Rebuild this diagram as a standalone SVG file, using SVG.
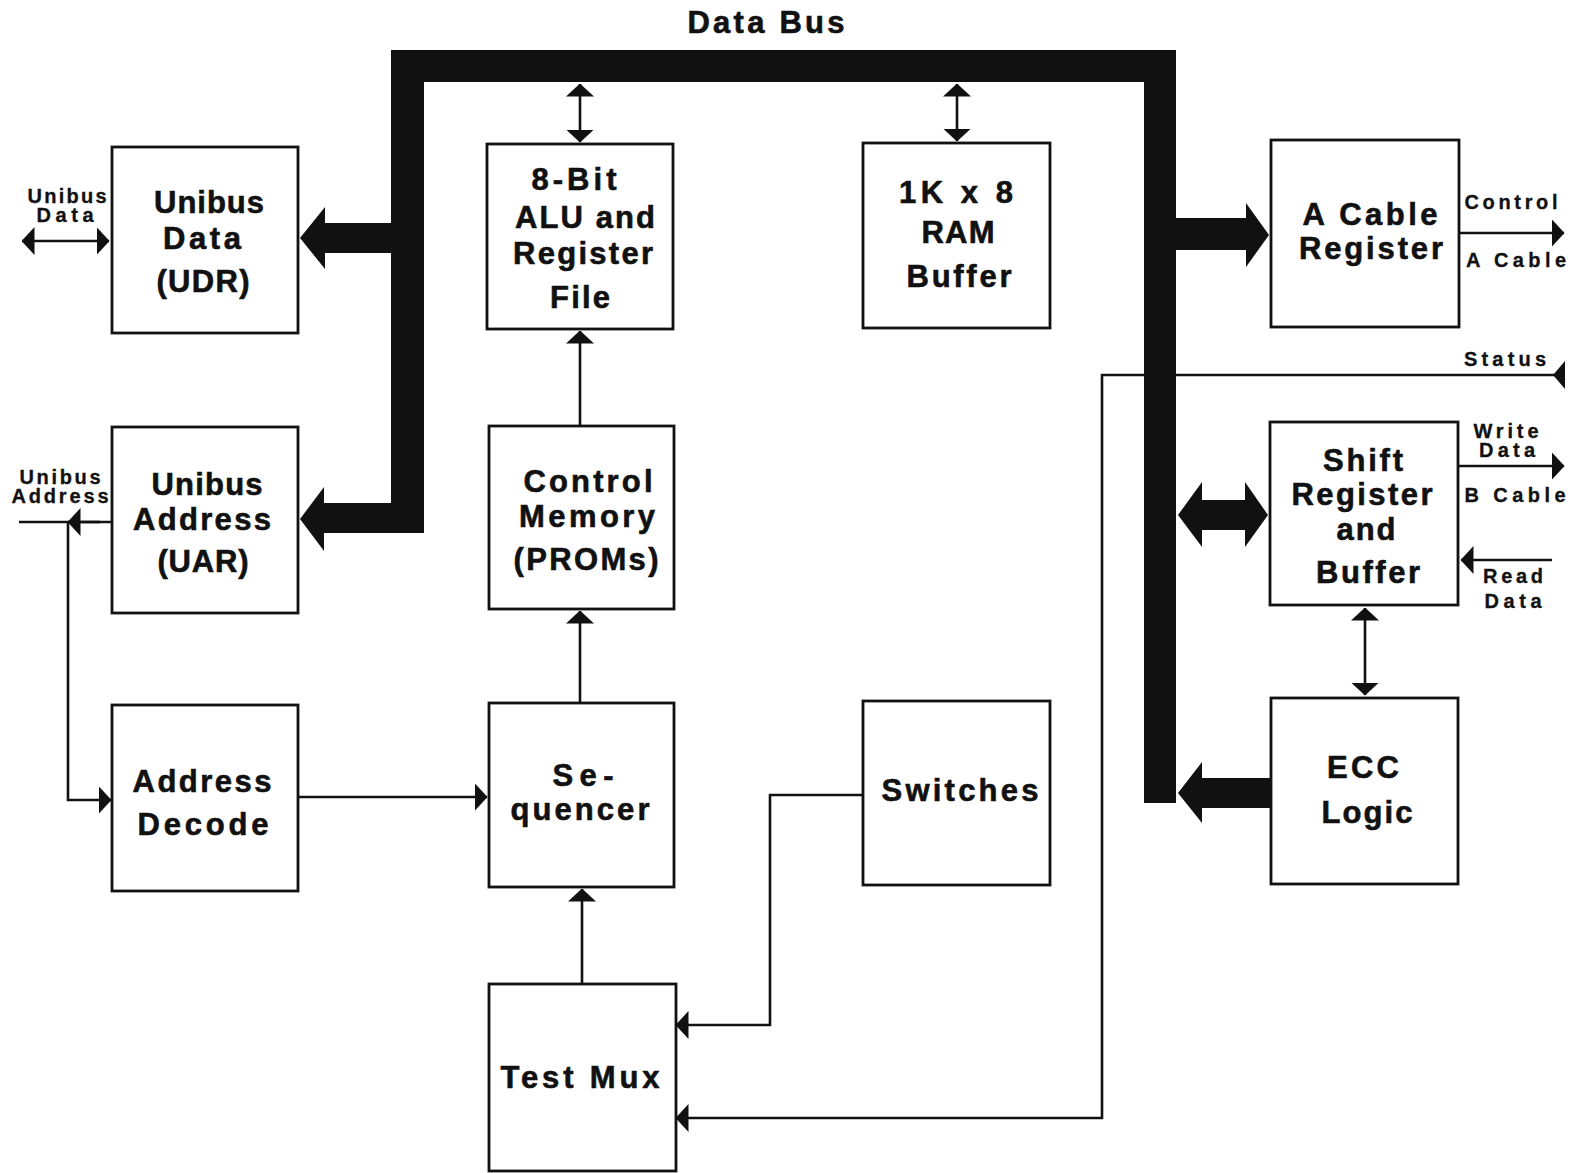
<svg xmlns="http://www.w3.org/2000/svg" width="1574" height="1173" viewBox="0 0 1574 1173">
<style>
.bx{fill:#fff;stroke:#111;stroke-width:2.8}
.t{font-family:"Liberation Sans",Arial,Helvetica,sans-serif;font-weight:bold;font-size:31px;fill:#111;stroke:#111;stroke-width:0.6;text-anchor:middle}
.s{font-family:"Liberation Sans",Arial,Helvetica,sans-serif;font-weight:bold;font-size:20px;fill:#111;stroke:#111;stroke-width:0.3;text-anchor:middle}
.ln{fill:none;stroke:#111;stroke-width:2.6}
.thick{fill:#111}
</style>
<defs>
<marker id="ah" viewBox="0 0 13 28" refX="12.5" refY="14" markerWidth="13" markerHeight="28" markerUnits="userSpaceOnUse" orient="auto-start-reverse">
<path d="M0,0 L13,14 L0,28 Z" fill="#111"/>
</marker>
</defs>
<rect width="1574" height="1173" fill="#fff"/>

<text class="t" x="766" y="33" textLength="157" lengthAdjust="spacing">Data Bus</text>

<g id="connectors">
<!-- data bus -->
<path class="thick" d="M391,50 H1176 V803 H1144 V82 H424 V533 H391 Z"/>
<!-- left bus arrows -->
<polygon class="thick" points="392,223 325,223 325,207 300,238 325,269 325,253 392,253"/>
<polygon class="thick" points="392,503 324,503 324,487 300,519 324,551 324,533 392,533"/>
<!-- right bus arrows -->
<polygon class="thick" points="1176,218 1246,218 1246,203 1269,235 1246,267 1246,250 1176,250"/>
<polygon class="thick" points="1178,515 1202,482 1202,500 1245,500 1245,482 1268,515 1245,547 1245,530 1202,530 1202,547"/>
<polygon class="thick" points="1271,778 1202,778 1202,762 1178,793 1202,823 1202,808 1271,808"/>
<!-- thin arrows -->
<line class="ln" x1="580" y1="84" x2="580" y2="142" marker-start="url(#ah)" marker-end="url(#ah)"/>
<line class="ln" x1="957" y1="84" x2="957" y2="141" marker-start="url(#ah)" marker-end="url(#ah)"/>
<line class="ln" x1="580" y1="426" x2="580" y2="331" marker-end="url(#ah)"/>
<line class="ln" x1="580" y1="703" x2="580" y2="611" marker-end="url(#ah)"/>
<line class="ln" x1="582" y1="984" x2="582" y2="889" marker-end="url(#ah)"/>
<line class="ln" x1="1365" y1="608" x2="1365" y2="695" marker-start="url(#ah)" marker-end="url(#ah)"/>
<line class="ln" x1="298" y1="797" x2="487" y2="797" marker-end="url(#ah)"/>
<line class="ln" x1="22" y1="241" x2="109" y2="241" marker-start="url(#ah)" marker-end="url(#ah)"/>
<line class="ln" x1="19" y1="522" x2="112" y2="522"/>
<line class="ln" x1="100" y1="522" x2="68" y2="522" marker-end="url(#ah)"/>
<polyline class="ln" points="68,522 68,800 111,800" marker-end="url(#ah)"/>
<line class="ln" x1="1459" y1="233" x2="1564" y2="233" marker-end="url(#ah)"/>
<polyline class="ln" points="1556,375 1102,375 1102,1118 676,1118" marker-end="url(#ah)"/>
<polygon class="thick" points="1553,375 1565,361 1565,389"/>
<polyline class="ln" points="863,795 770,795 770,1025 676,1025" marker-end="url(#ah)"/>
<line class="ln" x1="1458" y1="466" x2="1564" y2="466" marker-end="url(#ah)"/>
<line class="ln" x1="1552" y1="560" x2="1461" y2="560" marker-end="url(#ah)"/>
<!-- redraw bus over status line -->
<rect class="thick" x="1144" y="360" width="32" height="30"/>
</g>

<g id="lbl-unibus-data">
<text class="s" x="67" y="203" textLength="79" lengthAdjust="spacing">Unibus</text>
<text class="s" x="65" y="222" textLength="57" lengthAdjust="spacing">Data</text>
</g>
<g id="lbl-unibus-address">
<text class="s" x="60" y="484" textLength="81" lengthAdjust="spacing">Unibus</text>
<text class="s" x="60" y="503" textLength="97" lengthAdjust="spacing">Address</text>
</g>
<g id="lbl-right">
<text class="s" x="1511" y="209" textLength="93" lengthAdjust="spacing">Control</text>
<text class="s" x="1516" y="267" textLength="100" lengthAdjust="spacing">A Cable</text>
<text class="s" x="1505" y="366" textLength="82" lengthAdjust="spacing">Status</text>
<text class="s" x="1506" y="438" textLength="65" lengthAdjust="spacing">Write</text>
<text class="s" x="1507" y="457" textLength="56" lengthAdjust="spacing">Data</text>
<text class="s" x="1515" y="502" textLength="101" lengthAdjust="spacing">B Cable</text>
<text class="s" x="1513" y="583" textLength="60" lengthAdjust="spacing">Read</text>
<text class="s" x="1513" y="608" textLength="57" lengthAdjust="spacing">Data</text>
</g>

<g id="udr">
<rect class="bx" x="112" y="147" width="186" height="186"/>
<text class="t" x="209" y="213" textLength="110" lengthAdjust="spacing">Unibus</text>
<text class="t" x="202" y="249" textLength="78" lengthAdjust="spacing">Data</text>
<text class="t" x="203" y="292" textLength="93" lengthAdjust="spacing">(UDR)</text>
</g>
<g id="uar">
<rect class="bx" x="112" y="427" width="186" height="186"/>
<text class="t" x="207" y="495" textLength="111" lengthAdjust="spacing">Unibus</text>
<text class="t" x="202" y="530" textLength="138" lengthAdjust="spacing">Address</text>
<text class="t" x="203" y="572" textLength="91" lengthAdjust="spacing">(UAR)</text>
</g>
<g id="addr-decode">
<rect class="bx" x="112" y="705" width="186" height="186"/>
<text class="t" x="202" y="792" textLength="139" lengthAdjust="spacing">Address</text>
<text class="t" x="203" y="835" textLength="131" lengthAdjust="spacing">Decode</text>
</g>
<g id="alu">
<rect class="bx" x="487" y="144" width="186" height="185"/>
<text class="t" x="574" y="190" textLength="85" lengthAdjust="spacing">8-Bit</text>
<text class="t" x="585" y="228" textLength="140" lengthAdjust="spacing">ALU and</text>
<text class="t" x="583" y="264" textLength="140" lengthAdjust="spacing">Register</text>
<text class="t" x="580" y="308" textLength="60" lengthAdjust="spacing">File</text>
</g>
<g id="ram">
<rect class="bx" x="863" y="143" width="187" height="185"/>
<text class="t" x="956" y="203" textLength="114" lengthAdjust="spacing">1K x 8</text>
<text class="t" x="958" y="243" textLength="73" lengthAdjust="spacing">RAM</text>
<text class="t" x="959" y="287" textLength="105" lengthAdjust="spacing">Buffer</text>
</g>
<g id="control-memory">
<rect class="bx" x="489" y="426" width="185" height="183"/>
<text class="t" x="588" y="492" textLength="129" lengthAdjust="spacing">Control</text>
<text class="t" x="587" y="527" textLength="136" lengthAdjust="spacing">Memory</text>
<text class="t" x="586" y="570" textLength="145" lengthAdjust="spacing">(PROMs)</text>
</g>
<g id="sequencer">
<rect class="bx" x="489" y="703" width="185" height="184"/>
<text class="t" x="583" y="786" textLength="61" lengthAdjust="spacing">Se-</text>
<text class="t" x="580" y="820" textLength="139" lengthAdjust="spacing">quencer</text>
</g>
<g id="test-mux">
<rect class="bx" x="489" y="984" width="187" height="187"/>
<text class="t" x="580" y="1088" textLength="159" lengthAdjust="spacing">Test Mux</text>
</g>
<g id="switches">
<rect class="bx" x="863" y="701" width="187" height="184"/>
<text class="t" x="960" y="801" textLength="157" lengthAdjust="spacing">Switches</text>
</g>
<g id="a-cable-register">
<rect class="bx" x="1271" y="140" width="188" height="187"/>
<text class="t" x="1370" y="225" textLength="135" lengthAdjust="spacing">A Cable</text>
<text class="t" x="1371" y="259" textLength="144" lengthAdjust="spacing">Register</text>
</g>
<g id="shift-register">
<rect class="bx" x="1270" y="422" width="188" height="183"/>
<text class="t" x="1363" y="471" textLength="80" lengthAdjust="spacing">Shift</text>
<text class="t" x="1362" y="505" textLength="141" lengthAdjust="spacing">Register</text>
<text class="t" x="1366" y="540" textLength="59" lengthAdjust="spacing">and</text>
<text class="t" x="1368" y="583" textLength="104" lengthAdjust="spacing">Buffer</text>
</g>
<g id="ecc-logic">
<rect class="bx" x="1271" y="698" width="187" height="186"/>
<text class="t" x="1363" y="778" textLength="72" lengthAdjust="spacing">ECC</text>
<text class="t" x="1367" y="823" textLength="91" lengthAdjust="spacing">Logic</text>
</g>
</svg>
